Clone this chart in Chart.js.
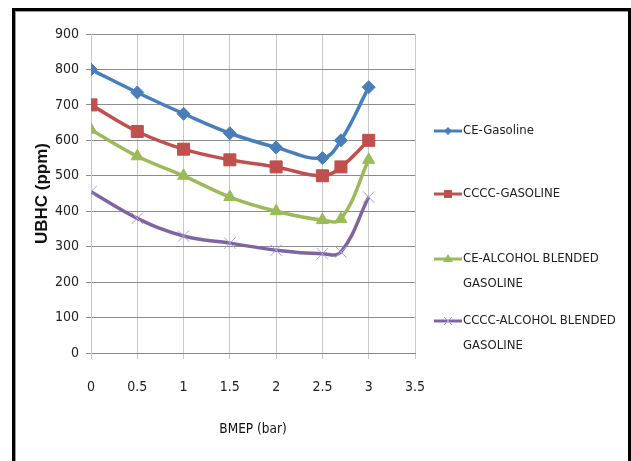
<!DOCTYPE html>
<html>
<head>
<meta charset="utf-8">
<script src="https://cdn.jsdelivr.net/npm/chart.js"></script>
<style>
  body { margin: 0; background: #fff; }
  #wrap { position: relative; width: 631px; height: 461px; overflow: hidden; }
  #frame {
    position: absolute; left: 12px; top: 8px; width: 613px; height: 470px;
    border: 3px solid #000; box-shadow: inset 1px 1px 0 #999;
    pointer-events: none;
  }
</style>
</head>
<body>
<div id="wrap">
  <canvas id="chart" width="631" height="461"></canvas>
  <div id="frame"></div>
</div>
<script>
// BMEP (bar) values on x axis
const bmep = [0, 0.5, 1, 1.5, 2, 2.5, 2.7, 3];

// UBHC (ppm) per series
const ceGasoline = [800, 735, 675, 620, 580, 550, 600, 750];
const ccccGasoline = [700, 625, 575, 545, 525, 500, 525, 600];
const ceAlcohol = [630, 555, 500, 440, 400, 375, 378, 545];
const ccccAlcohol = [455, 380, 330, 310, 290, 280, 285, 440];

const seriesNames = [
  ['CE-Gasoline'],
  ['CCCC-GASOLINE'],
  ['CE-ALCOHOL BLENDED', 'GASOLINE'],
  ['CCCC-ALCOHOL BLENDED', 'GASOLINE']
];

const narrow = "'DejaVu Sans Condensed', 'Liberation Sans Narrow', sans-serif";

function pts(ys) {
  return ys.map((y, i) => ({ x: bmep[i], y: y }));
}

function series(label, ys, color, style, radius, pColor, pWidth) {
  return {
    label: label,
    data: pts(ys),
    borderColor: color,
    backgroundColor: color,
    borderWidth: 3.5,
    tension: 0.4,
    pointStyle: style,
    pointRadius: radius,
    pointBackgroundColor: pColor || color,
    pointBorderColor: pColor || color,
    pointBorderWidth: pWidth || 1
  };
}

// legend drawn by hand so the long names can wrap
const sideLegend = {
  id: 'sideLegend',
  afterDraw(chart) {
    const ctx = chart.ctx;
    const rows = [131, 194, 259, 321];
    ctx.save();
    chart.data.datasets.forEach((ds, i) => {
      const y = rows[i];
      ctx.strokeStyle = ds.borderColor;
      ctx.lineWidth = 3;
      ctx.beginPath();
      ctx.moveTo(434, y);
      ctx.lineTo(462, y);
      ctx.stroke();
      ctx.fillStyle = ds.pointBackgroundColor;
      ctx.strokeStyle = ds.pointBorderColor;
      ctx.lineWidth = 1;
      const cx = 448;
      ctx.beginPath();
      if (ds.pointStyle === 'rectRot') {
        ctx.moveTo(cx, y - 4); ctx.lineTo(cx + 4, y); ctx.lineTo(cx, y + 4); ctx.lineTo(cx - 4, y);
        ctx.closePath(); ctx.fill();
      } else if (ds.pointStyle === 'rect') {
        ctx.rect(cx - 4, y - 4, 8, 8); ctx.fill();
      } else if (ds.pointStyle === 'triangle') {
        ctx.moveTo(cx, y - 5); ctx.lineTo(cx + 5, y + 3); ctx.lineTo(cx - 5, y + 3);
        ctx.closePath(); ctx.fill();
      } else {
        ctx.moveTo(cx - 4, y - 4); ctx.lineTo(cx + 4, y + 4);
        ctx.moveTo(cx + 4, y - 4); ctx.lineTo(cx - 4, y + 4);
        ctx.stroke();
      }
      ctx.fillStyle = '#222';
      ctx.font = '13px ' + narrow;
      ctx.textBaseline = 'middle';
      seriesNames[i].forEach((line, k) => ctx.fillText(line, 463, y + k * 25));
    });
    ctx.restore();
  }
};

new Chart(document.getElementById('chart'), {
  type: 'line',
  data: {
    datasets: [
      series(seriesNames[0].join(' '), ceGasoline, '#4a7ebb', 'rectRot', 6.5),
      series(seriesNames[1].join(' '), ccccGasoline, '#c0504d', 'rect', 8.5),
      series(seriesNames[2].join(' '), ceAlcohol, '#9bbb59', 'triangle', 7),
      series(seriesNames[3].join(' '), ccccAlcohol, '#8064a2', 'crossRot', 8, '#a99ed6', 1)
    ]
  },
  options: {
    responsive: false,
    animation: false,
    layout: { padding: { left: 0, top: 34, right: 216, bottom: 0 } },
    plugins: { legend: { display: false }, tooltip: { enabled: false } },
    scales: {
      x: {
        type: 'linear',
        min: 0, max: 3.5,
        ticks: { stepSize: 0.5, color: '#222', padding: 20, font: { family: narrow, size: 14 }, maxRotation: 0, callback: v => String(v) },
        grid: { color: '#c8c8c8', tickLength: 6, tickColor: '#c8c8c8' },
        border: { color: '#888' },
        title: { display: true, text: 'BMEP (bar)', color: '#111', padding: { top: 0, bottom: 23 }, font: { family: narrow, size: 13.5 } },
        afterFit(s) { s.height = 108; }
      },
      y: {
        min: 0, max: 900,
        ticks: { stepSize: 100, color: '#222', padding: 7, font: { family: narrow, size: 14 } },
        grid: { color: '#8c8c8c', tickLength: 5, tickColor: '#8c8c8c' },
        border: { color: '#c8c8c8' },
        title: { display: true, text: 'UBHC (ppm)', color: '#111', padding: { top: 32 }, font: { family: "'Liberation Sans', Arial, sans-serif", size: 17, weight: 'bold' } },
        afterFit(s) { s.width = 91; }
      }
    }
  },
  plugins: [sideLegend]
});
</script>
</body>
</html>
